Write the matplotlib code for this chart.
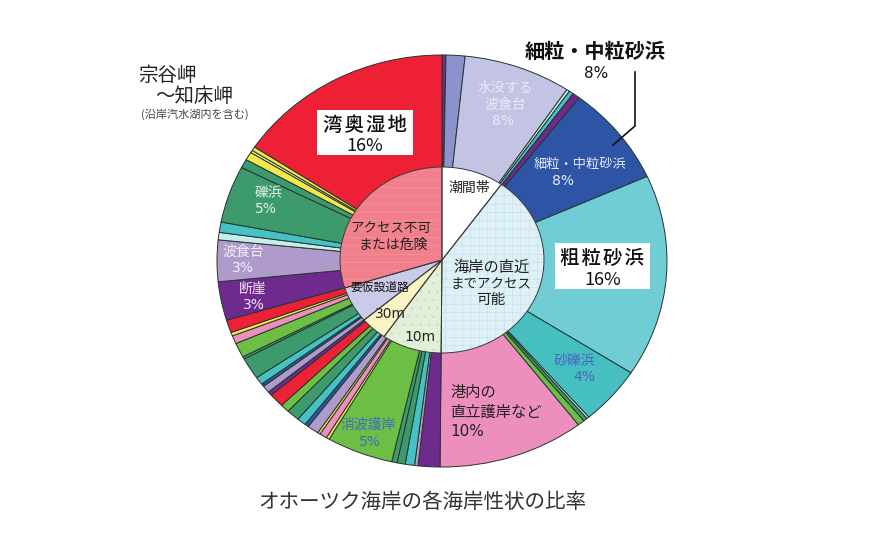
import matplotlib
matplotlib.use("Agg")
import matplotlib.pyplot as plt

plt.rcParams['font.family'] = ['Noto Sans CJK JP', 'DejaVu Sans']
plt.rcParams['hatch.linewidth'] = 0.4

# outer ring: coastal types, percent, clockwise from the top
outer_values = [0.28, 1.36, 7.72, 0.22, 0.33, 0.53, 7.83, 15.86, 4.56, 0.17, 0.28, 0.50,
                10.50, 1.56, 0.25, 0.67, 0.58, 0.39, 4.78, 0.22, 0.53, 0.19, 0.83, 0.28,
                0.64, 0.94, 0.64, 1.08, 0.31, 0.56, 0.22, 0.61, 1.69, 0.19, 1.14, 0.64,
                0.28, 1.00, 3.03, 3.25, 0.58, 0.81, 4.47, 0.69, 0.64, 0.19, 0.31, 15.67]
PUR, PER, LAV, TEAL, BLUE = '#6E2A8C', '#8C93CC', '#C3C4E4', '#45C2C4', '#2E55A5'
SKY, MINT, SEA, GRN, PNK = '#70CDD5', '#45BFBF', '#3D9A6C', '#6DBE45', '#EC8FBE'
YEL, RED, MAU, PALE, CRM = '#F2E84B', '#ED2036', '#AE9BCB', '#C8EDEE', '#F7EFA0'
outer_colors = [PUR, PER, LAV, PALE, TEAL, PUR, BLUE, SKY, MINT, PALE, SEA, GRN,
                PNK, PUR, MAU, TEAL, SEA, SEA, GRN, YEL, PNK, YEL, MAU, BLUE,
                TEAL, SEA, GRN, RED, PUR, MAU, BLUE, TEAL, SEA, SEA, GRN, PNK,
                YEL, RED, PUR, MAU, PALE, TEAL, SEA, SEA, YEL, CRM, YEL, RED]

# inner disc: access classes, percent
inner_values = [9.89, 40.25, 9.47, 4.22, 6.31, 29.86]
inner_colors = ['#FFFFFF', '#DDF2F6', '#E2EFD9', '#F8F4C4', '#C9CBE8', '#F17F8C']
inner_hatch = [None, '++', '..', None, None, '--']
inner_hatch_colors = ['#FFFFFF', '#CBD8EF', '#CBDCBE', '#F8F4C4', '#C9CBE8', '#F59AA4']

# (text, x, y, size, colour, weight, ha) in picture pixels
labels = [
    ('宗谷岬', 138, 75, 14, '#222222', 'normal', 'left'),
    ('～知床岬', 155, 96, 14, '#222222', 'normal', 'left'),
    ('(沿岸汽水湖内を含む)', 141, 114, 8, '#444444', 'normal', 'left'),
    ('細粒・中粒砂浜', 595, 51, 14.5, '#111111', 'bold', 'center'),
    ('8%', 596, 73, 11, '#111111', 'normal', 'center'),
    ('水没する', 505, 88, 10, '#E9E9F6', 'normal', 'center'),
    ('波食台', 505, 105, 10, '#E9E9F6', 'normal', 'center'),
    ('8%', 503, 121, 10, '#E9E9F6', 'normal', 'center'),
    ('細粒・中粒砂浜', 580, 164, 9.5, '#E8ECF8', 'normal', 'center'),
    ('8%', 563, 181, 10, '#E8ECF8', 'normal', 'center'),
    ('潮間帯', 469, 188, 10, '#222222', 'normal', 'center'),
    ('海岸の直近', 491, 267, 11, '#222222', 'normal', 'center'),
    ('までアクセス', 491, 283, 9.7, '#222222', 'normal', 'center'),
    ('可能', 491, 300, 10.5, '#222222', 'normal', 'center'),
    ('アクセス不可', 391, 228, 9.7, '#222222', 'normal', 'center'),
    ('または危険', 393, 245, 10, '#222222', 'normal', 'center'),
    ('要仮設道路', 380, 288, 8.5, '#111111', 'normal', 'center'),
    ('30m', 390, 314, 10, '#222222', 'normal', 'center'),
    ('10m', 420, 337, 10, '#222222', 'normal', 'center'),
    ('礫浜', 268, 193, 10, '#E4F0E8', 'normal', 'center'),
    ('5%', 266, 209, 10, '#E4F0E8', 'normal', 'center'),
    ('波食台', 243, 252, 10, '#F4EEF8', 'normal', 'center'),
    ('3%', 243, 268, 10, '#F4EEF8', 'normal', 'center'),
    ('断崖', 253, 289, 10, '#F2E6F6', 'normal', 'center'),
    ('3%', 254, 305, 10, '#F2E6F6', 'normal', 'center'),
    ('消波護岸', 368, 425, 10, '#3F6FC0', 'normal', 'center'),
    ('5%', 370, 442, 10, '#3F6FC0', 'normal', 'center'),
    ('砂礫浜', 574, 361, 10, '#4A66C0', 'normal', 'center'),
    ('4%', 584, 377, 10, '#4A66C0', 'normal', 'center'),
    ('港内の', 450, 393, 11, '#222222', 'normal', 'left'),
    ('直立護岸など', 450, 412, 11, '#222222', 'normal', 'left'),
    ('10%', 450, 431, 11, '#222222', 'normal', 'left'),
    ('オホーツク海岸の各海岸性状の比率', 422, 502, 14.8, '#333333', 'normal', 'center'),
]
# white boxes with text: (x0, y0, x1, y1, line1, y1, line2, y2)
boxes = [
    (317, 110, 413, 155, '湾\u200a奥\u200a湿\u200a地', 125, '16%', 146),
    (555, 243, 650, 289, '粗\u200a粒\u200a砂\u200a浜', 258, '16%', 280),
]
leader_x = [635, 635, 613]
leader_y = [72, 126, 145]

W, H = 874, 545
fig = plt.figure(figsize=(W / 100, H / 100), dpi=100)

def pie_axes(cx, cy, rx, ry):
    return fig.add_axes([(cx - rx) / W, 1 - (cy + ry) / H, 2 * rx / W, 2 * ry / H])

def finish(ax):
    ax.set_aspect('auto')
    ax.set_xlim(-1, 1)
    ax.set_ylim(-1, 1)
    ax.axis('off')

ax_out = pie_axes(442, 261, 225, 206)
ax_out.pie(outer_values, colors=outer_colors, startangle=90, counterclock=False, radius=1,
           wedgeprops=dict(edgecolor='#25352c', linewidth=0.7), normalize=True)
finish(ax_out)
for p in ax_out.patches:
    p.set_clip_on(False)

ax_in = pie_axes(442, 260, 102, 93)
fills, _ = ax_in.pie(inner_values, colors=inner_colors, startangle=90, counterclock=False, radius=1,
                     normalize=True)
for w, h, hc in zip(fills, inner_hatch, inner_hatch_colors):
    w.set_edgecolor(hc)
    w.set_linewidth(0)
    if h:
        w.set_hatch(h)
ax_in.pie(inner_values, colors=['none'] * len(inner_values), startangle=90, counterclock=False,
          radius=1, normalize=True, wedgeprops=dict(edgecolor='#3a3a3a', linewidth=0.7, facecolor='none'))
finish(ax_in)
for p in ax_in.patches:
    p.set_clip_on(False)

ov = fig.add_axes([0, 0, 1, 1], facecolor='none')
ov.set_xlim(0, W)
ov.set_ylim(H, 0)
ov.axis('off')
LATIN = ['DejaVu Sans', 'Noto Sans CJK JP']

def is_latin(s):
    return all(ord(c) < 128 for c in s)

for x0, y0, x1, y1, t1, ty1, t2, ty2 in boxes:
    ov.fill([x0, x1, x1, x0], [y0, y0, y1, y1], color='white', lw=0)
    ov.text((x0 + x1) / 2, ty1, t1, fontsize=14, color='#111111', ha='center', va='center',
            fontweight='medium', family=['Noto Sans CJK JP', 'DejaVu Sans'])
    ov.text((x0 + x1) / 2, ty2, t2, fontsize=13, color='#111111', ha='center', va='center')
for text, x, y, size, color, weight, ha in labels:
    kw = dict(family=LATIN) if is_latin(text) else {}
    ov.text(x, y, text, fontsize=size, color=color, fontweight=weight, ha=ha, va='center', **kw)
ov.plot(leader_x, leader_y, color='#111111', lw=1.2)

fig.savefig('out.png', dpi=100, facecolor='white')
